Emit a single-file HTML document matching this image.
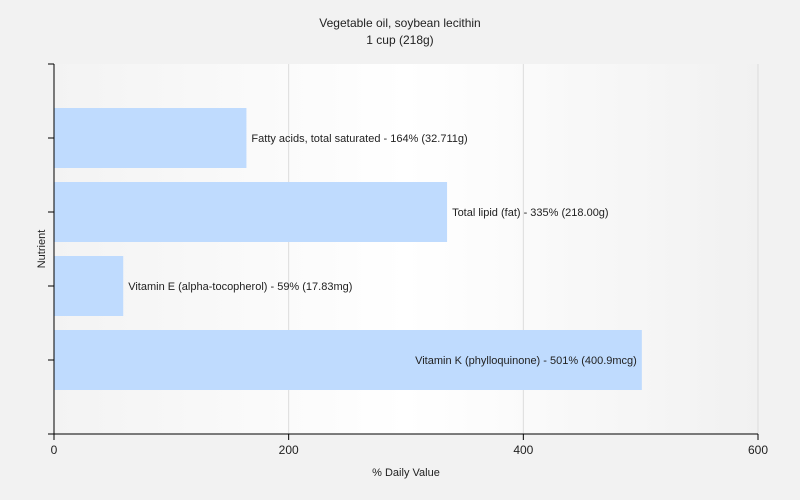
<!DOCTYPE html>
<html><head><meta charset="utf-8"><style>
body{margin:0;background:#f2f2f2;}
svg{display:block;font-family:"Liberation Sans",sans-serif;}
</style></head><body>
<svg id="chart" width="800" height="500">
<defs><linearGradient id="bg" x1="0" x2="1" y1="0" y2="0">
<stop offset="0" stop-color="#f3f3f3"/><stop offset="0.5" stop-color="#ffffff"/><stop offset="1" stop-color="#f1f1f1"/></linearGradient></defs>
<rect x="0" y="0" width="800" height="500" fill="#f2f2f2"/>
<text x="400" y="27" text-anchor="middle" font-size="12" fill="#222">Vegetable oil, soybean lecithin</text>
<text x="400" y="44" text-anchor="middle" font-size="12" fill="#222">1 cup (218g)</text>
<rect x="54" y="64" width="704" height="370" fill="url(#bg)"/>
<g id="grid"></g><g id="bars"></g><g id="axes"></g>
<text x="406" y="476" text-anchor="middle" font-size="11" fill="#222">% Daily Value</text>
<text transform="translate(45,249) rotate(-90)" text-anchor="middle" font-size="11" fill="#222">Nutrient</text>
</svg>
<script>
const categories=["Fatty acids, total saturated","Total lipid (fat)","Vitamin E (alpha-tocopherol)","Vitamin K (phylloquinone)"];
const values=[164,335,59,501];
const amounts=["32.711g","218.00g","17.83mg","400.9mcg"];
const xTicks=[0,200,400,600];
const NS="http://www.w3.org/2000/svg";
const x0=54,x1=758,y0=64,band=74,xmax=600;
const xs=v=>x0+(v/xmax)*(x1-x0);
const yc=i=>y0+band*(i+1);
function mk(t,a,p){const e=document.createElementNS(NS,t);for(const k in a)e.setAttribute(k,a[k]);p.appendChild(e);return e;}
const grid=document.getElementById('grid'),bars=document.getElementById('bars'),axes=document.getElementById('axes');
xTicks.forEach(t=>{
 if(t>0){const g=mk('line',{x1:xs(t),x2:xs(t),y1:y0,y2:434,stroke:'#dcdcdc'},grid);
 
 }
 const tk=mk('line',{x1:xs(t),x2:xs(t),y1:434,y2:440,stroke:'#000'},axes);
 
 
 const lb=mk('text',{x:xs(t),y:454,'text-anchor':'middle','font-size':12,fill:'#222'},axes);
 lb.textContent=t;
 
 
});
categories.forEach((c,i)=>{
 const cy=yc(i);
 const r=mk('rect',{x:x0,y:cy-30,width:xs(values[i])-x0,height:60,fill:'#bfdbfe'},bars);
 
 
 const txt=c+' - '+values[i]+'% ('+amounts[i]+')';
 const inside=xs(values[i])>600;
 const t=mk('text',{x:inside?xs(values[i])-5:xs(values[i])+5,y:cy+4,'text-anchor':inside?'end':'start','font-size':11,fill:'#222'},bars);
 t.textContent=txt;
 
 
});
for(let i=0;i<=5;i++){
 const y=y0+band*i;
 const tk=mk('line',{x1:48,x2:54,y1:y,y2:y,stroke:'#000'},axes);
 
 
}
const ya=mk('line',{x1:54,x2:54,y1:64,y2:434,stroke:'#000'},axes);


const xa=mk('line',{x1:54,x2:758,y1:434,y2:434,stroke:'#000'},axes);


</script>
</body></html>
